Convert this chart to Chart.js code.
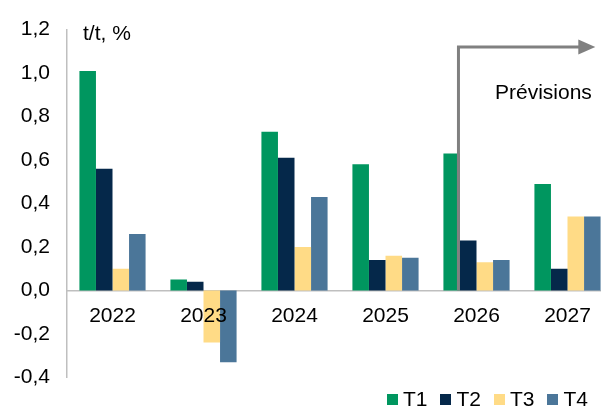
<!DOCTYPE html>
<html lang="fr">
<head>
<meta charset="utf-8">
<script src="https://cdn.jsdelivr.net/npm/chart.js@4/dist/chart.umd.min.js"></script>
<style>
  html, body { margin: 0; padding: 0; overflow: hidden; background: #fff; }
  body { width: 601px; height: 407px; position: relative; font-family: "Liberation Sans", Arial, sans-serif; }
  #wrap { position: absolute; left: 0; top: 0; width: 613px; height: 407px; }
  .note { position: absolute; font-size: 21px; color: #000; line-height: 1; white-space: nowrap; }
  #legend { position: absolute; right: 13px; top: 388px; display: flex; font-size: 21px; line-height: 22px; }
  #legend .item { display: flex; align-items: center; margin-left: 13px; }
  #legend .box { width: 11px; height: 11px; margin-right: 5px; }
</style>
</head>
<body>
<div id="wrap"><canvas id="chart"></canvas></div>
<div class="note" style="left:83px; top:22px;">t/t, %</div>
<div class="note" style="left:495px; top:81px;">Prévisions</div>
<div id="legend"></div>
<script>
// data
const years = ['2022', '2023', '2024', '2025', '2026', '2027'];
const quarters = ['T1', 'T2', 'T3', 'T4'];
const t1 = [1.01, 0.05, 0.73, 0.58, 0.63, 0.49];
const t2 = [0.56, 0.04, 0.61, 0.14, 0.23, 0.10];
const t3 = [0.10, -0.24, 0.20, 0.16, 0.13, 0.34];
const t4 = [0.26, -0.33, 0.43, 0.15, 0.14, 0.34];
const yMin = -0.4, yMax = 1.2, yStep = 0.2;
const colors = ['#00965F', '#05284A', '#FFDB86', '#4B7699'];

const font = { family: '"Liberation Sans", Arial, sans-serif', size: 21 };

// forecast arrow, drawn from the scales
const arrowPlugin = {
  id: 'arrow',
  afterDatasetsDraw(chart) {
    const ctx = chart.ctx;
    const bar = chart.getDatasetMeta(0).data[4]; // T1 2026
    const y = chart.scales.y;
    const x0 = bar.x + bar.width / 2 - 1.5;
    const yBot = y.getPixelForValue(0);
    const yTop = y.getPixelForValue(1.12);
    const tip = chart.getDatasetMeta(3).data[5].x + 3;
    ctx.save();
    ctx.strokeStyle = '#808080';
    ctx.fillStyle = '#808080';
    ctx.lineWidth = 3;
    ctx.beginPath();
    ctx.moveTo(x0, yBot);
    ctx.lineTo(x0, yTop);
    ctx.lineTo(tip - 16, yTop);
    ctx.stroke();
    ctx.beginPath();
    ctx.moveTo(tip, yTop);
    ctx.lineTo(tip - 17, yTop - 7.5);
    ctx.lineTo(tip - 17, yTop + 7.5);
    ctx.closePath();
    ctx.fill();
    ctx.restore();
  }
};

const series = [t1, t2, t3, t4];
const chart = new Chart(document.getElementById('chart'), {
  type: 'bar',
  data: {
    labels: years,
    datasets: quarters.map((q, i) => ({
      label: q,
      data: series[i],
      backgroundColor: colors[i],
      borderWidth: 0,
      barPercentage: 1,
      categoryPercentage: 0.727
    }))
  },
  options: {
    responsive: true,
    maintainAspectRatio: false,
    animation: false,
    layout: { padding: { top: 22, bottom: 28, left: 0, right: 0 } },
    plugins: { legend: { display: false }, tooltip: { enabled: false } },
    scales: {
      x: {
        position: { y: 0 },
        grid: { display: false, drawTicks: false },
        border: { display: true, color: '#BFBFBF', width: 1.5 },
        // labels sit on top of the bars, like the original
        ticks: { color: '#000', font: font, padding: 13, maxRotation: 0, z: 1 }
      },
      y: {
        min: yMin,
        max: yMax,
        grid: { display: false, drawTicks: false },
        border: { display: true, color: '#BFBFBF', width: 1.5 },
        ticks: {
          stepSize: yStep,
          color: '#000',
          font: font,
          padding: 17,
          callback: v => v.toFixed(1).replace('.', ',')
        },
        afterFit(scale) { scale.width = 67; }
      }
    }
  },
  plugins: [arrowPlugin]
});

// legend built from the datasets
const legend = document.getElementById('legend');
chart.data.datasets.forEach(ds => {
  const item = document.createElement('div');
  item.className = 'item';
  item.innerHTML = '<span class="box" style="background:' + ds.backgroundColor + '"></span><span>' + ds.label + '</span>';
  legend.appendChild(item);
});
</script>
</body>
</html>
